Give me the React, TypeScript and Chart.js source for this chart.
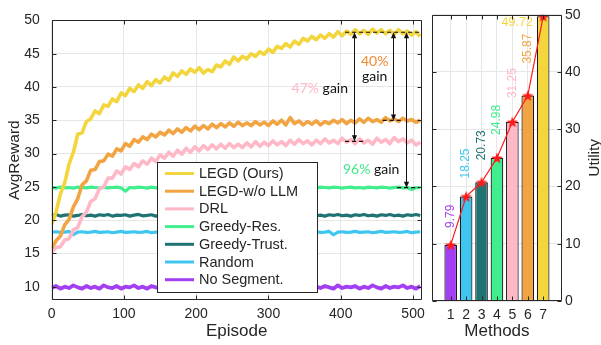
import React, { useEffect, useRef } from 'react';
import { Chart, registerables } from 'chart.js';

Chart.register(...registerables);

const FONT = "'Liberation Sans', Arial, Helvetica, sans-serif";
const ANNOT_FONT = "Lato, 'Open Sans', sans-serif";
const INK = '#262626';
const GRID = '#e6e6e6';

// ---------- left panel data ----------
const episodes = Array.from({ length: 86 }, (_, i) => i * 6);

const seriesNames = ['LEGD (Ours)', 'LEGD-w/o LLM', 'DRL', 'Greedy-Res.', 'Greedy-Trust.', 'Random', 'No Segment.'];
const seriesColors = ['#F3D53E', '#F2A443', '#FFB8C6', '#40EE8E', '#1F7473', '#3FC6F0', '#A33FF2'];

const legd = [
  19.4, 21.2, 23.9, 25.6, 28.4, 30.2, 32.9, 33.1, 34.8, 35.2,
  36.4, 36.0, 37.3, 37.1, 38.2, 37.8, 39.1, 38.7, 39.8, 39.3,
  40.3, 39.8, 40.8, 40.2, 41.1, 40.6, 41.5, 41.0, 42.1, 41.6,
  42.4, 41.9, 42.7, 42.2, 42.9, 42.1, 42.6, 42.3, 43.3, 43.0,
  43.9, 43.4, 44.5, 43.9, 44.6, 44.2, 45.0, 44.6, 45.3, 44.9,
  45.7, 45.2, 46.1, 45.8, 46.5, 46.0, 46.9, 46.4, 47.3, 46.9,
  47.6, 47.1, 47.8, 47.3, 48.0, 47.5, 48.3, 47.7, 48.4, 47.9,
  48.6, 48.0, 48.5, 47.9, 48.7, 48.1, 48.6, 48.0, 48.5, 47.9,
  48.6, 48.0, 48.4, 47.8, 48.3, 47.6,
];
const legdNoLlm = [
  15.8, 16.9, 17.6, 19.3, 20.1, 22.0, 23.2, 25.3, 25.9, 27.5,
  27.6, 28.8, 28.9, 29.9, 29.6, 30.7, 30.4, 31.5, 31.1, 32.1,
  31.7, 32.5, 32.1, 32.9, 32.5, 33.2, 32.8, 33.5, 33.0, 33.7,
  33.2, 33.9, 33.4, 34.1, 33.6, 34.2, 33.7, 34.4, 33.9, 34.5,
  34.0, 34.6, 34.1, 34.7, 34.2, 34.6, 34.2, 34.8, 34.3, 34.7,
  34.2, 34.9, 34.4, 35.0, 34.3, 35.4, 34.5, 34.9, 34.3, 34.8,
  34.4, 34.9, 34.3, 34.8, 34.5, 35.0, 34.6, 35.1, 34.5, 35.0,
  34.6, 35.2, 34.7, 35.3, 34.8, 35.1, 34.7, 35.4, 34.9, 35.2,
  34.8, 35.3, 34.9, 35.1, 34.7, 35.0,
];
const drl = [
  15.2, 15.9, 16.0, 17.0, 17.2, 18.5, 18.9, 20.5, 21.2, 22.8,
  23.2, 24.7, 25.0, 26.3, 26.3, 27.4, 26.9, 28.0, 27.6, 28.5,
  28.0, 28.9, 28.4, 29.3, 28.8, 29.8, 29.3, 30.2, 29.6, 30.5,
  29.9, 30.8, 30.2, 31.0, 30.4, 31.2, 30.6, 31.3, 30.7, 31.4,
  30.8, 31.5, 30.9, 31.4, 30.9, 31.6, 31.0, 31.8, 31.1, 31.7,
  31.2, 31.9, 31.3, 31.8, 31.2, 32.0, 31.4, 32.1, 31.5, 31.9,
  31.3, 32.0, 31.5, 32.2, 31.6, 32.0, 31.5, 32.3, 31.7, 32.1,
  31.5, 32.2, 31.6, 32.0, 31.4, 32.3, 31.7, 32.1, 31.5, 32.4,
  31.8, 32.2, 31.6, 32.0, 31.3, 31.7,
];
const greedyRes = [
  24.9, 24.8, 24.95, 24.85, 24.9, 24.8, 24.95, 24.9, 24.85, 24.95,
  24.9, 24.8, 24.95, 24.85, 24.9, 24.95, 24.85, 24.35, 24.9, 24.85,
  24.95, 24.9, 24.8, 24.95, 24.85, 24.9, 24.8, 24.95, 24.9, 24.85,
  24.95, 24.9, 24.8, 24.9, 24.95, 24.85, 24.9, 24.8, 24.95, 24.9,
  24.85, 24.95, 24.9, 24.8, 24.95, 24.85, 24.9, 24.95, 24.85, 24.9,
  24.8, 24.95, 24.9, 24.85, 24.95, 24.9, 24.8, 24.9, 24.95, 24.85,
  24.9, 24.8, 24.95, 24.9, 24.85, 24.95, 24.9, 24.8, 24.9, 24.95,
  24.85, 24.9, 24.8, 24.95, 24.9, 24.85, 24.95, 24.9, 24.8, 24.9,
  24.95, 24.85, 24.9, 24.6, 24.9, 24.85,
];
const greedyTrust = [
  20.7, 20.85, 20.6, 20.75, 20.8, 20.6, 20.7, 20.85, 20.65, 20.75,
  20.6, 20.8, 20.7, 20.85, 20.6, 20.75, 20.7, 20.8, 20.6, 20.75,
  20.85, 20.65, 20.7, 20.8, 20.6, 20.75, 20.85, 20.7, 20.6, 20.8,
  20.7, 20.85, 20.65, 20.75, 20.6, 20.8, 20.7, 20.85, 20.6, 20.75,
  20.8, 20.65, 20.7, 20.85, 20.6, 20.75, 20.7, 20.8, 20.65, 20.85,
  20.7, 20.6, 20.8, 20.75, 20.65, 20.85, 20.7, 20.6, 20.8, 20.7,
  20.85, 20.65, 20.75, 20.6, 20.8, 20.7, 20.85, 20.65, 20.75, 20.6,
  20.8, 20.7, 20.85, 20.65, 20.75, 20.6, 20.8, 20.7, 20.85, 20.65,
  20.75, 20.6, 20.8, 20.7, 20.85, 20.7,
];
const randomPolicy = [
  18.2, 18.25, 18.15, 18.2, 18.3, 17.8, 18.2, 18.25, 18.15, 18.2,
  18.3, 18.15, 18.2, 18.25, 18.1, 18.2, 18.3, 18.15, 18.2, 18.25,
  18.15, 18.2, 18.3, 18.1, 18.2, 18.25, 18.15, 18.2, 18.3, 18.15,
  18.2, 18.25, 18.1, 18.2, 18.3, 18.15, 18.2, 18.25, 18.15, 18.2,
  18.3, 18.1, 18.2, 18.25, 18.15, 18.2, 18.3, 18.15, 18.2, 18.25,
  18.1, 18.2, 18.3, 18.15, 18.2, 18.25, 18.15, 18.2, 18.3, 18.1,
  18.2, 18.25, 18.15, 18.2, 18.3, 17.8, 18.2, 18.25, 18.15, 18.2,
  18.3, 18.15, 18.2, 18.25, 18.1, 18.2, 18.3, 18.15, 18.2, 18.25,
  18.15, 18.2, 18.3, 18.1, 18.2, 18.25,
];
const noSegment = [
  9.8, 10.1, 9.7, 10.0, 9.8, 10.2, 9.9, 9.7, 10.1, 9.8,
  10.0, 9.7, 10.2, 9.9, 9.8, 10.1, 9.7, 10.0, 9.9, 10.2,
  9.8, 10.0, 9.7, 10.1, 9.9, 9.8, 10.2, 9.7, 10.0, 9.9,
  10.1, 9.8, 9.7, 10.0, 10.2, 9.8, 9.9, 10.1, 9.7, 10.0,
  9.8, 10.1, 9.9, 9.7, 10.2, 9.8, 10.0, 9.9, 10.1, 9.7,
  10.0, 9.8, 10.2, 9.9, 9.7, 10.1, 9.8, 10.0, 9.9, 10.2,
  9.7, 10.0, 9.8, 10.1, 9.9, 9.7, 10.2, 9.8, 10.0, 9.9,
  10.1, 9.7, 10.0, 9.8, 10.2, 9.9, 9.7, 10.1, 9.8, 10.0,
  9.9, 10.2, 9.8, 10.0, 9.7, 10.1,
];
const seriesData = [legd, legdNoLlm, drl, greedyRes, greedyTrust, randomPolicy, noSegment];

const episodeTicks = [0, 100, 200, 300, 400, 500];
const rewardTicks = [10, 15, 20, 25, 30, 35, 40, 45, 50];

// gain annotations
const gainLabels = ['47%', '40%', '96%'];
const gainColors = ['#FFB8C6', '#F08A32', '#40EA8C'];

// ---------- right panel data ----------
const methods = [1, 2, 3, 4, 5, 6, 7];
const utility = [9.79, 18.25, 20.73, 24.98, 31.25, 35.87, 49.72];
const methodColors = ['#A33FF2', '#3FC6F0', '#1F7473', '#40EE8E', '#FFB8C6', '#F2A443', '#F3D53E'];
const utilityTicks = [0, 10, 20, 30, 40, 50];

const tailMean = (arr: number[], n = 16) => {
  const t = arr.slice(arr.length - n);
  return t.reduce((a, b) => a + b, 0) / t.length;
};

function drawBoxAndTicks(chart: any, xVals: number[], yVals: number[], len = 4) {
  const { ctx, chartArea: a, scales } = chart;
  const L = Math.round(a.left) + 0.5, R = Math.round(a.right) - 0.5;
  const T = Math.round(a.top) + 0.5, B = Math.round(a.bottom) - 0.5;
  ctx.save();
  ctx.strokeStyle = INK;
  ctx.lineWidth = 1;
  ctx.setLineDash([]);
  ctx.beginPath();
  ctx.rect(L, T, R - L, B - T);
  ctx.stroke();
  ctx.beginPath();
  xVals.forEach((v) => {
    const p = Math.round(scales.x.getPixelForValue(v)) + 0.5;
    ctx.moveTo(p, B); ctx.lineTo(p, B - len);
    ctx.moveTo(p, T); ctx.lineTo(p, T + len);
  });
  yVals.forEach((v) => {
    const p = Math.round(scales.y.getPixelForValue(v)) + 0.5;
    ctx.moveTo(L, p); ctx.lineTo(L + len, p);
    ctx.moveTo(R, p); ctx.lineTo(R - len, p);
  });
  ctx.stroke();
  ctx.restore();
}

function arrowHead(ctx: CanvasRenderingContext2D, x: number, y: number, dir: number) {
  // dir: -1 pointing up, +1 pointing down
  ctx.beginPath();
  ctx.moveTo(x, y);
  ctx.lineTo(x - 2.6, y - dir * 6);
  ctx.lineTo(x + 2.6, y - dir * 6);
  ctx.closePath();
  ctx.fill();
}

const leftPlugin = {
  id: 'leftDecor',
  afterDatasetsDraw(chart: any) {
    const { ctx, scales } = chart;
    const xs = scales.x, ys = scales.y;
    const top = tailMean(legd);
    const levels = [tailMean(drl), tailMean(legdNoLlm), tailMean(greedyRes)];
    const arrowEp = [418, 472, 490];
    const dashSpan = [[406, 431], [458, 484], [478, 505]];
    ctx.save();
    ctx.strokeStyle = '#111';
    ctx.fillStyle = '#111';
    ctx.lineWidth = 1.2;
    ctx.setLineDash([4, 3]);
    const yTop = ys.getPixelForValue(top);
    ctx.beginPath();
    ctx.moveTo(xs.getPixelForValue(406), yTop);
    ctx.lineTo(xs.getPixelForValue(512), yTop);
    ctx.stroke();
    levels.forEach((lv, i) => {
      const y = ys.getPixelForValue(lv);
      ctx.beginPath();
      ctx.moveTo(xs.getPixelForValue(dashSpan[i][0]), y);
      ctx.lineTo(xs.getPixelForValue(dashSpan[i][1]), y);
      ctx.stroke();
    });
    ctx.setLineDash([]);
    ctx.lineWidth = 1;
    levels.forEach((lv, i) => {
      const x = Math.round(xs.getPixelForValue(arrowEp[i])) + 0.5;
      const y1 = ys.getPixelForValue(lv);
      ctx.beginPath();
      ctx.moveTo(x, yTop + 4);
      ctx.lineTo(x, y1 - 4);
      ctx.stroke();
      arrowHead(ctx, x, yTop, -1);
      arrowHead(ctx, x, y1, 1);
    });

    // gain texts
    ctx.font = `14px ${ANNOT_FONT}`;
    ctx.textBaseline = 'middle';
    ctx.textAlign = 'left';
    const drawGain = (label: string, color: string, ep: number, v: number, split: boolean) => {
      const cx = xs.getPixelForValue(ep);
      const cy = ys.getPixelForValue(v);
      if (split) {
        const w1 = ctx.measureText(label).width;
        ctx.fillStyle = color;
        ctx.fillText(label, cx - w1 / 2, cy);
        const w2 = ctx.measureText('gain').width;
        ctx.fillStyle = '#111';
        ctx.fillText('gain', cx - w2 / 2, cy + 15);
      } else {
        const w1 = ctx.measureText(label + ' ').width;
        const w = ctx.measureText(label + ' gain').width;
        ctx.fillStyle = color;
        ctx.fillText(label, cx - w / 2, cy);
        ctx.fillStyle = '#111';
        ctx.fillText('gain', cx - w / 2 + w1, cy);
      }
    };
    drawGain(gainLabels[0], gainColors[0], 371, 39.7, false);
    drawGain(gainLabels[1], gainColors[1], 447, 43.8, true);
    drawGain(gainLabels[2], gainColors[2], 442, 27.6, false);
    ctx.restore();
  },
  afterDraw(chart: any) {
    drawBoxAndTicks(chart, episodeTicks, rewardTicks, 4);
    const { ctx } = chart;
    // legend box
    const bx = 157.5, by = 162.5, bw = 160, bh = 130;
    ctx.save();
    ctx.fillStyle = '#ffffff';
    ctx.fillRect(bx, by, bw, bh);
    ctx.strokeStyle = INK;
    ctx.lineWidth = 1;
    ctx.strokeRect(bx, by, bw, bh);
    ctx.font = `14.5px ${FONT}`;
    ctx.textBaseline = 'middle';
    ctx.textAlign = 'left';
    chart.data.datasets.forEach((ds: any, i: number) => {
      const y = 173.5 + i * 17.7;
      ctx.strokeStyle = ds.borderColor;
      ctx.lineWidth = 3;
      ctx.beginPath();
      ctx.moveTo(165, y);
      ctx.lineTo(194, y);
      ctx.stroke();
      ctx.fillStyle = INK;
      ctx.fillText(ds.label, 199, y + 0.5);
    });
    ctx.restore();
  },
};

function makeStar(size: number, color: string) {
  const c = document.createElement('canvas');
  c.width = size;
  c.height = size;
  const g = c.getContext('2d')!;
  const cx = size / 2, cy = size / 2 + 0.5, R = size / 2, r = R * 0.42;
  g.beginPath();
  for (let k = 0; k < 10; k++) {
    const ang = -Math.PI / 2 + (k * Math.PI) / 5;
    const rad = k % 2 === 0 ? R : r;
    const px = cx + rad * Math.cos(ang);
    const py = cy + rad * Math.sin(ang);
    if (k === 0) g.moveTo(px, py); else g.lineTo(px, py);
  }
  g.closePath();
  g.fillStyle = color;
  g.fill();
  return c;
}

const rightPlugin = {
  id: 'rightDecor',
  afterDatasetsDraw(chart: any) {
    const { ctx } = chart;
    const meta = chart.getDatasetMeta(0);
    const gaps = [17, 18, 22, 23, 24, 32];
    ctx.save();
    ctx.font = `12px ${FONT}`;
    meta.data.forEach((bar: any, i: number) => {
      const txt = utility[i].toFixed(2);
      ctx.fillStyle = methodColors[i];
      if (i < gaps.length) {
        ctx.save();
        ctx.translate(bar.x, bar.y - gaps[i]);
        ctx.rotate(-Math.PI / 2);
        ctx.textAlign = 'left';
        ctx.textBaseline = 'middle';
        ctx.fillText(txt, 0, 0);
        ctx.restore();
      } else {
        ctx.textAlign = 'right';
        ctx.textBaseline = 'middle';
        ctx.font = `12.5px ${FONT}`;
        ctx.fillText(txt, bar.x - bar.width / 2 - 4, bar.y + 6.5);
      }
    });
    ctx.restore();
  },
  afterDraw(chart: any) {
    drawBoxAndTicks(chart, methods, utilityTicks, 4);
    const { ctx } = chart;
    ctx.save();
    ctx.font = `15.5px ${FONT}`;
    ctx.fillStyle = INK;
    ctx.textAlign = 'center';
    ctx.textBaseline = 'middle';
    ctx.translate(170, (chart.chartArea.top + chart.chartArea.bottom) / 2);
    ctx.rotate(-Math.PI / 2);
    ctx.fillText('Utility', 0, 0);
    ctx.restore();
  },
};

export default function App() {
  const leftRef = useRef<HTMLCanvasElement>(null);
  const rightRef = useRef<HTMLCanvasElement>(null);

  useEffect(() => {
    const tickFont = { family: FONT, size: 14 };
    const left = new Chart(leftRef.current!, {
      type: 'line',
      data: {
        labels: episodes,
        datasets: seriesNames.map((name, i) => ({
          label: name,
          data: seriesData[i],
          borderColor: seriesColors[i],
          backgroundColor: seriesColors[i],
          borderWidth: i === 6 ? 3.8 : i < 3 ? 3.6 : 3.2,
          pointRadius: 0,
          tension: 0,
          borderJoinStyle: 'round' as const,
          fill: false,
        })),
      },
      options: {
        animation: false,
        responsive: false,
        devicePixelRatio: 1,
        layout: { padding: { left: 0, right: 12.3, top: 14, bottom: 0 } },
        plugins: { legend: { display: false }, tooltip: { enabled: false } },
        scales: {
          x: {
            type: 'linear',
            min: 0,
            max: 512,
            afterFit: (s: any) => { s.height = 45; },
            afterBuildTicks: (s: any) => { s.ticks = episodeTicks.map((v) => ({ value: v })); },
            border: { display: false },
            grid: { color: GRID, drawTicks: false },
            ticks: { font: tickFont, color: INK, padding: 6, maxRotation: 0 },
            title: { display: true, text: 'Episode', color: INK, font: { family: FONT, size: 17 }, padding: { top: 0, bottom: 3.4 } },
          },
          y: {
            min: 8,
            max: 50,
            afterFit: (s: any) => { s.width = 51.7; },
            afterBuildTicks: (s: any) => { s.ticks = rewardTicks.map((v) => ({ value: v })); },
            border: { display: false },
            grid: { color: GRID, drawTicks: false },
            ticks: { font: tickFont, color: INK, padding: 12 },
            title: { display: true, text: 'AvgReward', color: INK, font: { family: FONT, size: 15.5 }, padding: { top: 5.7, bottom: 0 } },
          },
        },
      },
      plugins: [leftPlugin],
    } as any);

    const star = makeStar(12, '#ff1a1a');
    const right = new Chart(rightRef.current!, {
      type: 'bar',
      data: {
        labels: methods,
        datasets: [
          {
            type: 'bar',
            label: 'Utility',
            data: utility,
            backgroundColor: methodColors,
            borderColor: '#1a1a1a',
            borderWidth: 1.2,
            barPercentage: 0.82,
            categoryPercentage: 1,
            order: 2,
          },
          {
            type: 'line',
            label: 'trend',
            data: utility,
            borderColor: '#ff1a1a',
            borderWidth: 1.2,
            pointStyle: star,
            pointRadius: 6,
            tension: 0,
            order: 1,
          },
        ],
      },
      options: {
        animation: false,
        responsive: false,
        devicePixelRatio: 1,
        layout: { padding: { left: 6.7, top: 14.7, right: 0, bottom: 0 } },
        plugins: { legend: { display: false }, tooltip: { enabled: false } },
        scales: {
          x: {
            type: 'linear',
            min: -0.2,
            max: 8.2,
            offset: false,
            afterFit: (s: any) => { s.height = 44; },
            afterBuildTicks: (s: any) => { s.ticks = methods.map((v) => ({ value: v })); },
            border: { display: false },
            grid: { color: GRID, drawTicks: false, offset: false },
            ticks: { font: tickFont, color: INK, padding: 6, maxRotation: 0 },
            title: { display: true, text: 'Methods', color: INK, font: { family: FONT, size: 17 }, padding: { top: 0, bottom: 3.4 } },
          },
          y: {
            position: 'right',
            min: 0,
            max: 50,
            afterFit: (s: any) => { s.width = 53.3; },
            afterBuildTicks: (s: any) => { s.ticks = utilityTicks.map((v) => ({ value: v })); },
            border: { display: false },
            grid: { color: GRID, drawTicks: false },
            ticks: { font: tickFont, color: INK, padding: 3.3 },
          },
        },
      },
      plugins: [rightPlugin],
    } as any);

    return () => {
      left.destroy();
      right.destroy();
    };
  }, []);

  return (
    <div style={{ position: 'fixed', left: 0, top: 0, width: 601, height: 345, overflow: 'hidden', background: '#ffffff' }}>
      <canvas ref={leftRef} width={434} height={345} style={{ position: 'absolute', left: 0, top: 0, width: 434, height: 345 }} />
      <canvas ref={rightRef} width={190} height={345} style={{ position: 'absolute', left: 425, top: 0, width: 190, height: 345 }} />
    </div>
  );
}
